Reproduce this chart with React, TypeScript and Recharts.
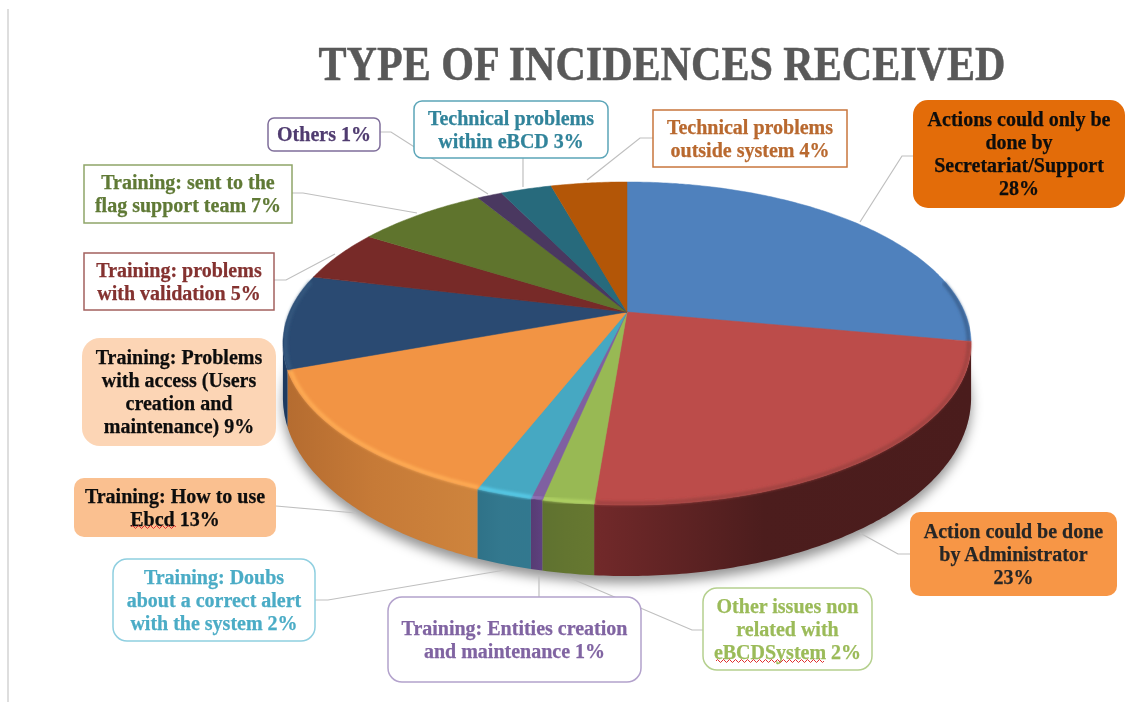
// App.tsx - tilted pie of incidence types, drawn with custom Pie shapes
import React from 'react';
import { PieChart, Pie } from 'recharts';

const CATEGORIES = [
  'Actions could only be done by Secretariat/Support',
  'Action could be done by Administrator',
  'Other issues non related with eBCDSystem',
  'Training: Entities creation and maintenance',
  'Training: Doubs about a correct alert with the system',
  'Training: How to use Ebcd',
  'Training: Problems with access (Users creation and maintenance)',
  'Training: problems with validation',
  'Training: sent to the flag support team',
  'Others',
  'Technical problems within eBCD',
  'Technical problems outside system',
];
// slice sizes as measured on the picture (labels show them rounded)
const VALUES = [27.9, 23.3, 2.0, 0.45, 2.2, 13.45, 9.4, 5.2, 7.4, 1.4, 2.9, 4.3];

const LABEL_LINES = [
  ['Actions could only be', 'done by', 'Secretariat/Support', '28%'],
  ['Action could be done', 'by Administrator', '23%'],
  ['Other issues non', 'related with', 'eBCDSystem 2%'],
  ['Training: Entities creation', 'and maintenance 1%'],
  ['Training: Doubs', 'about a correct alert', 'with the system 2%'],
  ['Training: How to use', 'Ebcd 13%'],
  ['Training: Problems', 'with access (Users', 'creation and', 'maintenance) 9%'],
  ['Training: problems', 'with validation 5%'],
  ['Training: sent to the', 'flag support team 7%'],
  ['Others 1%'],
  ['Technical problems', 'within eBCD 3%'],
  ['Technical problems', 'outside system 4%'],
];

const TOP_COLORS = ['#4F81BD', '#BC4C4A', '#98B954', '#7F60A1', '#46A8C2', '#F29444', '#2A4A72', '#772A28', '#5F742D', '#4A3860', '#276A7C', '#B35607'];
const BEVEL_COLORS = ['#3A6190', '#9E4240', '#B2D465', '#9273B8', '#58CDEB', '#FFAD55', '#35587F', null, null, null, null, null];
const WALL_COLORS = [
  ['#2E4E75', '#2E4E75', '#2E4E75'],
  ['#72292A', '#4C1D1D', '#4A1C1C'],
  ['#667830', '#637530', '#5F7230'],
  ['#5E4180', '#5A3E78', '#573C74'],
  ['#32788F', '#33788E', '#2F7288'],
  ['#CE843D', '#C67A37', '#B56C30'],
  ['#1D3A60', '#1D3A60', '#1D3A60'],
  ['#5A2020', '#5A2020', '#5A2020'],
  ['#4A5A22', '#4A5A22', '#4A5A22'],
  ['#38294A', '#38294A', '#38294A'],
  ['#1D5261', '#1D5261', '#1D5261'],
  ['#8A4205', '#8A4205', '#8A4205'],
];

// callout layout, same order as CATEGORIES
const CALLOUTS = [
  { x: 913, y: 100, w: 212, h: 108, r: 15, fill: '#E36C09', stroke: 'none', color: '#0D0D0D', leader: [[913, 156], [902, 156], [860, 222]] },
  { x: 910, y: 512, w: 207, h: 84, r: 10, fill: '#F79646', stroke: 'none', color: '#262626', leader: [[910, 554], [898, 554], [860, 533]] },
  { x: 703, y: 588, w: 169, h: 82, r: 14, fill: '#FFFFFF', stroke: '#B5D08E', color: '#9BBB59', leader: [[703, 630], [692, 630], [570, 578]], squiggle: [716, 661, 108] },
  { x: 388, y: 597, w: 253, h: 85, r: 14, fill: '#FFFFFF', stroke: '#B3A2CC', color: '#8064A2', leader: [[539, 597], [539, 575]] },
  { x: 113, y: 559, w: 202, h: 82, r: 14, fill: '#FFFFFF', stroke: '#8FCFE0', color: '#4BACC6', leader: [[315, 600], [328, 600], [505, 570]] },
  { x: 74, y: 478, w: 202, h: 59, r: 10, fill: '#FAC090', stroke: 'none', color: '#0D0D0D', leader: [[276, 506], [356, 513]], squiggle: [131, 527, 43] },
  { x: 82, y: 338, w: 194, h: 108, r: 18, fill: '#FCD5B5', stroke: 'none', color: '#0D0D0D', leader: [] },
  { x: 84, y: 253, w: 190, h: 57, r: 0, fill: '#FFFFFF', stroke: '#A3605E', color: '#843230', leader: [[274, 280], [286, 280], [335, 254]] },
  { x: 84, y: 165, w: 208, h: 58, r: 0, fill: '#FFFFFF', stroke: '#8FA568', color: '#607A36', leader: [[292, 193], [303, 193], [417, 213]] },
  { x: 268, y: 118, w: 112, h: 33, r: 6, fill: '#FFFFFF', stroke: '#7F6E9A', color: '#503C70', leader: [[380, 132], [391, 132], [488, 194]] },
  { x: 414, y: 101, w: 194, h: 57, r: 8, fill: '#FFFFFF', stroke: '#5BA5B8', color: '#31849B', leader: [[523, 158], [523, 187]] },
  { x: 653, y: 110, w: 194, h: 57, r: 0, fill: '#FFFFFF', stroke: '#C8763D', color: '#B9692F', leader: [[653, 138], [640, 138], [587, 180]] },
];

const SLICES = CATEGORIES.map((name, i) => ({ name, value: VALUES[i], slice: i }));
const WHOLE = [{ name: 'shadow', value: 100, slice: -1 }];

const PIE_CX = 627;
const PIE_CY = 312;
const PIE_R = 337.5;
const SQUASH = 0.4604; // vertical radius / horizontal radius
const PERSPECTIVE = 0.195;
const FONT = '"Liberation Serif", serif';

const RADIAN = Math.PI / 180;

// circle point -> tilted pie, nearer edge gets stretched
const project = (cx: number, cy: number, r: number, deg: number, scale = 1) => {
  const u = Math.cos(deg * RADIAN) * scale;
  const v = -Math.sin(deg * RADIAN) * scale;
  const w = 1 - PERSPECTIVE * v;
  return { x: cx + (r * u) / w, y: cy + (r * SQUASH * v) / w, v };
};

const arc = (cx: number, cy: number, r: number, start: number, end: number, scale = 1) => {
  const steps = Math.max(2, Math.ceil(Math.abs(start - end) * 1.5));
  const pts = [];
  for (let i = 0; i <= steps; i++) {
    pts.push(project(cx, cy, r, start + ((end - start) * i) / steps, scale));
  }
  return pts;
};

const toPath = (pts: { x: number; y: number }[]) =>
  pts.map((p, i) => `${i ? 'L' : 'M'}${p.x.toFixed(1)},${p.y.toFixed(1)}`).join(' ');

const wallDepth = (v: number) => 50 + 21 * v;

function ShadowShape({ cx, cy, outerRadius, startAngle, endAngle }: any) {
  const pts = arc(cx, cy, outerRadius, startAngle, endAngle).map((p) => ({ x: p.x, y: p.y + wallDepth(p.v) + 7 }));
  return <path d={toPath(pts) + ' Z'} fill="#000" fillOpacity={0.42} filter="url(#pieShadow)" />;
}

function WallShape({ cx, cy, outerRadius, startAngle, endAngle, slice }: any) {
  const rim = arc(cx, cy, outerRadius, startAngle, endAngle).filter((p) => p.v >= PERSPECTIVE);
  if (rim.length < 2) return null;
  const bottom = rim.map((p) => ({ x: p.x, y: p.y + wallDepth(p.v) })).reverse();
  const id = `wall${slice}`;
  const stops = WALL_COLORS[slice];
  return (
    <g>
      <defs>
        <linearGradient id={id} x1="0" y1="0" x2="1" y2="0">
          <stop offset="0" stopColor={slice === 1 ? stops[0] : stops[2]} />
          <stop offset="0.45" stopColor={stops[1]} />
          <stop offset="1" stopColor={slice === 1 ? stops[2] : stops[0]} />
        </linearGradient>
      </defs>
      <path d={toPath([...rim, ...bottom]) + ' Z'} fill={`url(#${id})`} />
    </g>
  );
}

function TopShape({ cx, cy, outerRadius, startAngle, endAngle, slice }: any) {
  const rim = arc(cx, cy, outerRadius, startAngle, endAngle);
  const fill = TOP_COLORS[slice];
  const bevel = BEVEL_COLORS[slice];
  const bevelArc = arc(cx, cy, outerRadius, startAngle, endAngle, 0.993).filter((p) => p.v >= -0.2);
  return (
    <g>
      <path d={`M${cx},${cy} ${toPath(rim).replace('M', 'L')} Z`} fill={fill} stroke={fill} strokeWidth={0.5} />
      {bevel && bevelArc.length > 1 && (
        <path d={toPath(bevelArc)} fill="none" stroke={bevel} strokeWidth={3.5} filter="url(#bevelBlur)" />
      )}
    </g>
  );
}

function squiggle(x: number, y: number, w: number) {
  let d = `M${x},${y}`;
  for (let i = 0; i * 3 < w; i++) d += ` q1.5,${i % 2 ? 3 : -3} 3,0`;
  return d;
}

function renderCallout(props: any) {
  const slice = props.slice ?? props.payload?.slice ?? props.index;
  const box = CALLOUTS[slice];
  const lines = LABEL_LINES[slice];
  const lineHeight = 23;
  const firstBaseline = box.y + box.h / 2 - (lines.length * lineHeight) / 2 + 18;
  return (
    <g key={slice}>
      {box.leader.length > 0 && (
        <polyline points={box.leader.map((p) => p.join(',')).join(' ')} fill="none" stroke="#BFBFBF" strokeWidth={1.2} />
      )}
      <rect
        x={box.x}
        y={box.y}
        width={box.w}
        height={box.h}
        rx={box.r}
        fill={box.fill}
        stroke={box.stroke}
        strokeWidth={1.5}
      />
      <text
        x={box.x + box.w / 2}
        textAnchor="middle"
        fontFamily={FONT}
        fontWeight="bold"
        fontSize={20}
        fill={box.color}
        stroke={box.color}
        strokeWidth={0.25}
      >
        {lines.map((line, i) => (
          <tspan key={i} x={box.x + box.w / 2} y={firstBaseline + i * lineHeight}>
            {line}
          </tspan>
        ))}
      </text>
      {box.squiggle && (
        <path d={squiggle(box.squiggle[0], box.squiggle[1], box.squiggle[2])} fill="none" stroke="#E03030" strokeWidth={1} />
      )}
    </g>
  );
}

export default function App() {
  return (
    <div style={{ position: 'absolute', left: 0, top: 0, width: 1146, height: 702, background: '#fff', overflow: 'hidden', filter: 'blur(0.45px)' }}>
      <div style={{ position: 'absolute', left: 7, top: 9, width: 2, height: 693, background: '#DEDEDE' }} />
      <PieChart width={1146} height={702} margin={{ top: 0, right: 0, bottom: 0, left: 0 }}>
        <defs>
          <filter id="pieShadow" x="-10%" y="-10%" width="120%" height="130%">
            <feGaussianBlur stdDeviation="6" />
          </filter>
          <filter id="bevelBlur" x="-5%" y="-30%" width="110%" height="160%">
            <feGaussianBlur stdDeviation="1.6" />
          </filter>
        </defs>
        <text
          x={662}
          y={80}
          textAnchor="middle"
          fontFamily={FONT}
          fontWeight="bold"
          fontSize={48}
          fill="#595959"
          stroke="#595959"
          strokeWidth={0.5}
          textLength={687}
          lengthAdjust="spacingAndGlyphs"
        >
          TYPE OF INCIDENCES RECEIVED
        </text>
        <Pie
          data={WHOLE}
          dataKey="value"
          cx={PIE_CX}
          cy={PIE_CY}
          outerRadius={PIE_R}
          startAngle={90}
          endAngle={-270}
          stroke="none"
          shape={ShadowShape}
          isAnimationActive={false}
        />
        <Pie
          data={SLICES}
          dataKey="value"
          cx={PIE_CX}
          cy={PIE_CY}
          outerRadius={PIE_R}
          startAngle={90}
          endAngle={-270}
          stroke="none"
          shape={WallShape}
          isAnimationActive={false}
        />
        <Pie
          data={SLICES}
          dataKey="value"
          nameKey="name"
          cx={PIE_CX}
          cy={PIE_CY}
          outerRadius={PIE_R}
          startAngle={90}
          endAngle={-270}
          stroke="none"
          shape={TopShape}
          label={renderCallout}
          labelLine={false}
          isAnimationActive={false}
        />
      </PieChart>
    </div>
  );
}
